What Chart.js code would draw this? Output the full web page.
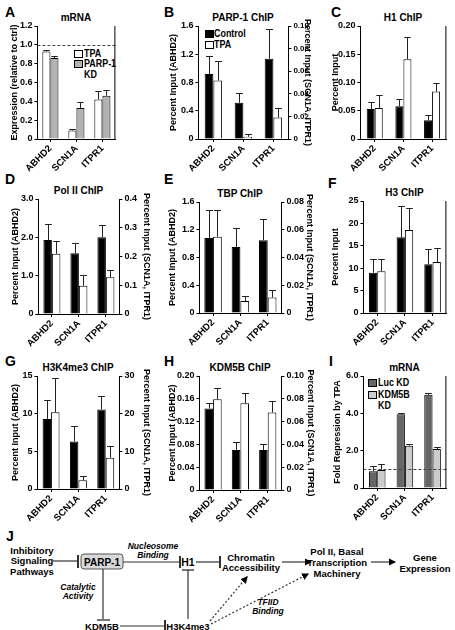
<!DOCTYPE html>
<html>
<head>
<meta charset="utf-8">
<script src="https://cdn.jsdelivr.net/npm/chart.js@4"></script>
<style>
  body { margin: 0; width: 455px; height: 630px; position: relative; overflow: hidden; background: #fff;
         font-family: "Liberation Sans", Arial, sans-serif; font-weight: bold; color: #000; }
  .box { position: absolute; }
  .letter { position: absolute; font-size: 14px; line-height: 14px; }
  .ttl { position: absolute; font-size: 10px; line-height: 12px; text-align: center; white-space: nowrap; }
  .leg { position: absolute; font-size: 10.5px; line-height: 11px; white-space: nowrap; transform: scaleX(0.85); transform-origin: left top; }
  .sw { position: absolute; width: 7px; height: 6px; border: 1px solid #000; }
  svg { position: absolute; left: 0; top: 0; }
</style>
</head>
<body>

<div class="letter" style="left:5px;top:5px">A</div>
<div class="letter" style="left:164px;top:5px">B</div>
<div class="letter" style="left:331px;top:5px">C</div>
<div class="letter" style="left:5px;top:172px">D</div>
<div class="letter" style="left:164px;top:172px">E</div>
<div class="letter" style="left:328px;top:176px">F</div>
<div class="letter" style="left:5px;top:354px">G</div>
<div class="letter" style="left:164px;top:354px">H</div>
<div class="letter" style="left:329px;top:354px">I</div>
<div class="letter" style="left:6px;top:529px">J</div>

<!-- legends -->
<div class="sw" style="left:74px;top:50px;background:#fff"></div>
<div class="leg" style="left:84px;top:48px">TPA</div>
<div class="sw" style="left:74px;top:60px;background:#b3b3b3"></div>
<div class="leg" style="left:84px;top:58px">PARP-1<br>KD</div>

<div class="sw" style="left:205px;top:30px;background:#000"></div>
<div class="leg" style="left:214px;top:28px">Control</div>
<div class="sw" style="left:205px;top:41px;background:#fff"></div>
<div class="leg" style="left:214px;top:39px">TPA</div>

<div class="sw" style="left:368px;top:379px;background:#666"></div>
<div class="leg" style="left:378px;top:377px">Luc KD</div>
<div class="sw" style="left:368px;top:391px;background:#ccc"></div>
<div class="leg" style="left:378px;top:389px">KDM5B<br>KD</div>

<!-- J: pathway diagram -->
<svg width="455" height="630" font-family="Liberation Sans, Arial, sans-serif" font-weight="bold" font-size="9.5">
  <defs>
    <marker id="ah" markerWidth="6" markerHeight="6" refX="5" refY="3" orient="auto">
      <path d="M0,0 L6,3 L0,6 z" fill="#000"/>
    </marker>
  </defs>
  <g text-anchor="middle" dominant-baseline="central" fill="#000">
    <text x="32" y="550">Inhibitory</text>
    <text x="32" y="560.5">Signaling</text>
    <text x="32" y="571">Pathways</text>
    <rect x="81" y="554" width="42" height="15" rx="3" fill="#d9d9d9" stroke="#555"/>
    <text x="102" y="562" font-size="10">PARP-1</text>
    <text x="153" y="546" font-style="italic" font-size="8.5">Nucleosome</text>
    <text x="153" y="554.5" font-style="italic" font-size="8.5">Binding</text>
    <text x="188" y="562" font-size="10.5">H1</text>
    <text x="251" y="557">Chromatin</text>
    <text x="251" y="567.5">Accessibility</text>
    <text x="337" y="551">Pol II, Basal</text>
    <text x="337" y="562">Transcription</text>
    <text x="337" y="573">Machinery</text>
    <text x="425" y="557">Gene</text>
    <text x="425" y="568">Expression</text>
    <text x="78" y="587" font-style="italic" font-size="8.5">Catalytic</text>
    <text x="78" y="595.5" font-style="italic" font-size="8.5">Activity</text>
    <text x="102" y="626">KDM5B</text>
    <text x="188" y="626">H3K4me3</text>
    <text x="268" y="602" font-style="italic" font-size="8.5">TFIID</text>
    <text x="268" y="611" font-style="italic" font-size="8.5">Binding</text>
  </g>
  <g stroke="#333" stroke-width="1.2" fill="none">
    <line x1="53" y1="561" x2="78" y2="561"/>
    <line x1="78" y1="555" x2="78" y2="568" stroke-width="2"/>
    <line x1="123" y1="562" x2="180" y2="562"/>
    <line x1="180" y1="556" x2="180" y2="568" stroke-width="2"/>
    <line x1="182" y1="570" x2="194" y2="570" stroke="#777" stroke-width="2"/>
    <line x1="188" y1="570" x2="188" y2="619"/>
    <line x1="196" y1="562" x2="220" y2="562"/>
    <line x1="220" y1="556" x2="220" y2="568" stroke-width="2"/>
    <line x1="282" y1="562" x2="311" y2="562" marker-end="url(#ah)"/>
    <line x1="371" y1="562" x2="395" y2="562" marker-end="url(#ah)"/>
    <line x1="103" y1="569" x2="103" y2="619"/>
    <line x1="97" y1="620" x2="110" y2="620" stroke="#777" stroke-width="2"/>
    <line x1="120" y1="626" x2="165" y2="626"/>
    <line x1="165" y1="620" x2="165" y2="632" stroke-width="2"/>
    <line x1="210" y1="621" x2="247" y2="577" stroke-dasharray="2,2" marker-end="url(#ah)"/>
    <line x1="211" y1="624" x2="308" y2="574" stroke-dasharray="2,2" marker-end="url(#ah)"/>
  </g>
</svg>

<script>
const genes = ['ABHD2', 'SCN1A', 'ITPR1'];

// A: mRNA (relative to ctrl)
const aTPA = [0.93, 0.09, 0.42];
const aTPAErr = [0.02, 0.02, 0.09];
const aKD = [0.86, 0.33, 0.46];
const aKDErr = [0.02, 0.06, 0.06];
const aTicks = ['0', '0.2', '0.4', '0.6', '0.8', '1.0', '1.2'];

// B: PARP-1 ChIP (ABHD2 on left axis, SCN1A/ITPR1 on right axis)
const bControl = [0.92, 0.032, 0.071];
const bControlErr = [0.26, 0.009, 0.026];
const bTPA = [0.83, 0.002, 0.019];
const bTPAErr = [0.27, 0.002, 0.008];
const bTicksL = ['0', '0.4', '0.8', '1.2', '1.6'];
const bTicksR = ['0', '0.02', '0.04', '0.06', '0.08', '0.10'];

// C: H1 ChIP
const cControl = [0.053, 0.058, 0.033];
const cControlErr = [0.012, 0.013, 0.009];
const cTPA = [0.055, 0.141, 0.084];
const cTPAErr = [0.023, 0.039, 0.016];
const cTicks = ['0', '0.05', '0.10', '0.15', '0.20'];

// D: Pol II ChIP
const dControl = [1.93, 0.211, 0.267];
const dControlErr = [0.43, 0.037, 0.043];
const dTPA = [1.57, 0.098, 0.128];
const dTPAErr = [0.34, 0.038, 0.026];
const dTicksL = ['0', '1.0', '2.0', '3.0'];
const dTicksR = ['0', '0.1', '0.2', '0.3', '0.4'];

// E: TBP ChIP
const eControl = [1.08, 0.0476, 0.0525];
const eControlErr = [0.41, 0.0137, 0.015];
const eTPA = [1.10, 0.0087, 0.0112];
const eTPAErr = [0.39, 0.0036, 0.0057];
const eTicksL = ['0', '0.4', '0.8', '1.2', '1.6'];
const eTicksR = ['0', '0.02', '0.04', '0.06', '0.08'];

// F: H3 ChIP
const fControl = [9.0, 16.9, 10.9];
const fControlErr = [3.1, 7.0, 3.3];
const fTPA = [9.3, 18.5, 11.4];
const fTPAErr = [2.65, 4.95, 3.0];
const fTicks = ['0', '5', '10', '15', '20', '25'];

// G: H3K4me3 ChIP
const gControl = [9.3, 12.6, 21.1];
const gControlErr = [2.5, 4.1, 3.7];
const gTPA = [10.2, 2.35, 8.3];
const gTPAErr = [4.6, 1.0, 3.0];
const gTicksL = ['0', '5', '10', '15'];
const gTicksR = ['0', '10', '20', '30'];

// H: KDM5B ChIP
const hControl = [0.143, 0.035, 0.035];
const hControlErr = [0.009, 0.007, 0.005];
const hTPA = [0.159, 0.076, 0.068];
const hTPAErr = [0.020, 0.009, 0.010];
const hTicksL = ['0', '0.04', '0.08', '0.12', '0.16', '0.20'];
const hTicksR = ['0', '0.02', '0.04', '0.06', '0.08', '0.10'];

// I: mRNA fold repression by TPA
const iLuc = [0.90, 3.95, 4.99];
const iLucErr = [0.26, 0.08, 0.11];
const iKDM = [0.96, 2.27, 2.09];
const iKDMErr = [0.33, 0.09, 0.09];
const iTicks = ['0', '2.0', '4.0', '6.0'];

Chart.defaults.font.family = '"Liberation Sans", Arial, sans-serif';
Chart.defaults.font.weight = 'bold';
Chart.defaults.color = '#000';

// error bars, dashed reference line and right frame
const extras = {
  id: 'extras',
  afterDatasetsDraw(chart, args, o) {
    const ctx = chart.ctx;
    const a = chart.chartArea;
    ctx.save();
    ctx.lineWidth = 1;
    ctx.strokeStyle = '#222';
    chart.data.datasets.forEach((ds, di) => {
      const meta = chart.getDatasetMeta(di);
      const ys = chart.scales[ds.yAxisID];
      meta.data.forEach((bar, i) => {
        const v = ds.data[i], e = ds.errors[i];
        if (v == null || e == null) return;
        const y0 = ys.getPixelForValue(v);
        const y1 = Math.round(ys.getPixelForValue(v + e)) + 0.5;
        const x = Math.round(bar.x) + 0.5;
        const half = bar.width * 0.4;
        ctx.beginPath();
        ctx.moveTo(x, y0);
        ctx.lineTo(x, y1);
        ctx.moveTo(x - half, y1);
        ctx.lineTo(x + half, y1);
        ctx.stroke();
      });
    });
    if (o.refLine != null) {
      const y = Math.round(chart.scales.y.getPixelForValue(o.refLine)) + 0.5;
      ctx.setLineDash([3, 2]);
      ctx.strokeStyle = '#444';
      ctx.beginPath();
      ctx.moveTo(a.left, y);
      ctx.lineTo(a.right, y);
      ctx.stroke();
      ctx.setLineDash([]);
    }
    if (o.frameRight) {
      ctx.strokeStyle = '#000';
      ctx.beginPath();
      ctx.moveTo(a.right - 0.5, a.top);
      ctx.lineTo(a.right - 0.5, a.bottom);
      ctx.stroke();
    }
    ctx.restore();
  }
};

function yAxis(ticks, title, pos, width, tickSize) {
  return {
    position: pos,
    min: 0,
    max: parseFloat(ticks[ticks.length - 1]),
    afterBuildTicks: s => { s.ticks = ticks.map(t => ({ value: parseFloat(t) })); },
    afterFit: s => { s.width = width; },
    ticks: { callback: (v, i) => ticks[i], padding: 2, autoSkip: false, font: { size: tickSize || 9, weight: 'bold' }, color: '#000' },
    grid: { drawOnChartArea: false, tickLength: 3, color: '#000' },
    border: { color: '#000', width: 1 },
    title: { display: true, text: title, padding: 0, font: { size: 9, weight: 'bold' }, color: '#000' }
  };
}

// geo: [plotLeft, plotRight, plotTop, plotBottom, leftTitleX, rightTitleX]
function makePanel(geo, p) {
  const [L, R, T, B, ltx, rtx] = geo;
  const dual = !!p.rightTicks;
  const left = ltx - 5.4;
  const right = dual ? rtx + 5.4 : R + 2;
  const top = T - 17, bottom = B + 42;

  const ttl = document.createElement('div');
  ttl.className = 'ttl';
  ttl.textContent = p.title;
  ttl.style.left = (L - 20) + 'px';
  ttl.style.width = (R - L + 40) + 'px';
  ttl.style.top = (T - 14) + 'px';
  document.body.appendChild(ttl);

  const div = document.createElement('div');
  div.className = 'box';
  div.style.left = left + 'px';
  div.style.top = top + 'px';
  div.style.width = (right - left) + 'px';
  div.style.height = (bottom - top) + 'px';
  const cv = document.createElement('canvas');
  div.appendChild(cv);
  document.body.appendChild(div);

  const mk = (s, axis, keep) => ({
    label: s.label,
    yAxisID: axis,
    data: s.values.map((v, i) => keep(i) ? v : null),
    errors: s.errors.map((v, i) => keep(i) ? v : null),
    backgroundColor: s.color,
    borderColor: '#000',
    borderWidth: 1,
    skipNull: true,
    categoryPercentage: p.cat,
    barPercentage: 1
  });
  const datasets = [];
  if (dual) {
    p.series.forEach(s => datasets.push(mk(s, 'y', i => i === 0)));
    p.series.forEach(s => datasets.push(mk(s, 'y1', i => i > 0)));
  } else {
    p.series.forEach(s => datasets.push(mk(s, 'y', () => true)));
  }

  const scales = {
    x: {
      offset: true,
      grid: { drawOnChartArea: false, tickLength: 3, color: '#000', offset: false },
      border: { color: '#000', width: 1 },
      ticks: { minRotation: 45, maxRotation: 45, padding: 1, font: { size: 9.5, weight: 'bold' }, color: '#000' },
      afterFit: s => { s.height = 42; }
    },
    y: yAxis(p.leftTicks, p.leftTitle, 'left', L - left)
  };
  if (dual) scales.y1 = yAxis(p.rightTicks, p.rightTitle, 'right', right - R, p.rightTickSize);

  new Chart(cv, {
    type: 'bar',
    data: { labels: genes, datasets },
    options: {
      responsive: true,
      maintainAspectRatio: false,
      animation: false,
      layout: { padding: { top: 17, right: dual ? 0 : 2 } },
      plugins: {
        legend: { display: false },
        tooltip: { enabled: false },
        extras: { refLine: p.refLine, frameRight: !dual }
      },
      scales
    },
    plugins: [extras]
  });
}

const pctL = 'Percent Input (ABHD2)';
const pctR = 'Percent Input (SCN1A, ITPR1)';

makePanel([37, 115, 26, 139, 14], {
  title: 'mRNA', cat: 0.62, refLine: 1.0,
  leftTicks: aTicks, leftTitle: 'Expression (relative to ctrl)',
  series: [
    { label: 'TPA', values: aTPA, errors: aTPAErr, color: '#fff' },
    { label: 'PARP-1 KD', values: aKD, errors: aKDErr, color: '#b3b3b3' }
  ]
});
makePanel([198, 288, 26, 139, 173, 307], {
  title: 'PARP-1 ChIP', cat: 0.58,
  leftTicks: bTicksL, leftTitle: pctL, rightTicks: bTicksR, rightTitle: pctR, rightTickSize: 8,
  series: [
    { label: 'Control', values: bControl, errors: bControlErr, color: '#000' },
    { label: 'TPA', values: bTPA, errors: bTPAErr, color: '#fff' }
  ]
});
makePanel([360, 446, 26, 139, 335], {
  title: 'H1 ChIP', cat: 0.56,
  leftTicks: cTicks, leftTitle: 'Percent Input',
  series: [
    { label: 'Control', values: cControl, errors: cControlErr, color: '#000' },
    { label: 'TPA', values: cTPA, errors: cTPAErr, color: '#fff' }
  ]
});
makePanel([38, 119, 199, 314, 15, 146], {
  title: 'Pol II ChIP', cat: 0.63,
  leftTicks: dTicksL, leftTitle: pctL, rightTicks: dTicksR, rightTitle: pctR,
  series: [
    { label: 'Control', values: dControl, errors: dControlErr, color: '#000' },
    { label: 'TPA', values: dTPA, errors: dTPAErr, color: '#fff' }
  ]
});
makePanel([199, 281, 202, 313, 172, 309], {
  title: 'TBP ChIP', cat: 0.64,
  leftTicks: eTicksL, leftTitle: pctL, rightTicks: eTicksR, rightTitle: pctR,
  series: [
    { label: 'Control', values: eControl, errors: eControlErr, color: '#000' },
    { label: 'TPA', values: eTPA, errors: eTPAErr, color: '#fff' }
  ]
});
makePanel([363, 446, 201, 313, 335], {
  title: 'H3 ChIP', cat: 0.6,
  leftTicks: fTicks, leftTitle: 'Percent Input',
  series: [
    { label: 'Control', values: fControl, errors: fControlErr, color: '#000' },
    { label: 'TPA', values: fTPA, errors: fTPAErr, color: '#fff' }
  ]
});
makePanel([37, 119, 376, 489, 15, 146], {
  title: 'H3K4me3 ChIP', cat: 0.62,
  leftTicks: gTicksL, leftTitle: pctL, rightTicks: gTicksR, rightTitle: pctR,
  series: [
    { label: 'Control', values: gControl, errors: gControlErr, color: '#000' },
    { label: 'TPA', values: gTPA, errors: gTPAErr, color: '#fff' }
  ]
});
makePanel([199, 281, 376, 490, 172, 310], {
  title: 'KDM5B ChIP', cat: 0.63,
  leftTicks: hTicksL, leftTitle: pctL, rightTicks: hTicksR, rightTitle: pctR,
  series: [
    { label: 'Control', values: hControl, errors: hControlErr, color: '#000' },
    { label: 'TPA', values: hTPA, errors: hTPAErr, color: '#fff' }
  ]
});
makePanel([363, 446, 376, 488, 337], {
  title: 'mRNA', cat: 0.6, refLine: 1.0,
  leftTicks: iTicks, leftTitle: 'Fold Repression by TPA',
  series: [
    { label: 'Luc KD', values: iLuc, errors: iLucErr, color: '#666' },
    { label: 'KDM5B KD', values: iKDM, errors: iKDMErr, color: '#ccc' }
  ]
});
</script>
</body>
</html>
